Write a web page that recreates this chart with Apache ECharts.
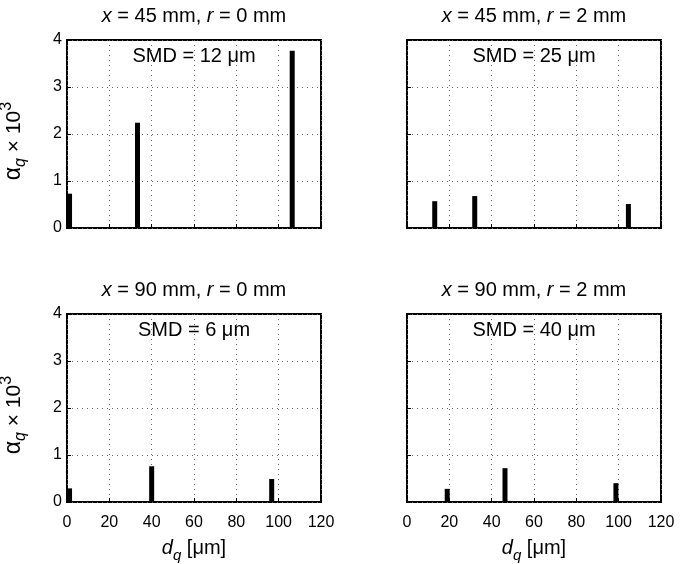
<!DOCTYPE html>
<html>
<head>
<meta charset="utf-8">
<script src="https://cdn.jsdelivr.net/npm/echarts@6/dist/echarts.min.js"></script>
<style>html,body{margin:0;padding:0;background:#fff}#c{width:681px;height:564px}</style>
</head>
<body>
<div id="c"></div>
<script>
// Panel data (d_q in µm, alpha_q × 10^3)
const xPositions = ['45', '45', '90', '90'];
const rPositions = ['0', '2', '0', '2'];
const smdValues = ['12', '25', '6', '40'];
const dq_x45_r0 = [1.2, 33.3, 106.4];
const aq_x45_r0 = [0.73, 2.24, 3.77];
const dq_x45_r2 = [13.1, 32.0, 104.6];
const aq_x45_r2 = [0.57, 0.68, 0.51];
const dq_x90_r0 = [1.2, 40.0, 96.7];
const aq_x90_r0 = [0.29, 0.76, 0.49];
const dq_x90_r2 = [19.0, 46.3, 98.7];
const aq_x90_r2 = [0.28, 0.72, 0.40];
const xTicks = [0, 20, 40, 60, 80, 100, 120];
const yTicks = [0, 1, 2, 3, 4];

const dqSets = [dq_x45_r0, dq_x45_r2, dq_x90_r0, dq_x90_r2];
const aqSets = [aq_x45_r0, aq_x45_r2, aq_x90_r0, aq_x90_r2];

const FONT = '"Liberation Sans", Arial, Helvetica, sans-serif';
const FS_TICK = 16;
const FS = 20;
const FS_SMALL = 15;
const gridBoxes = [
  {left: 67, top: 40, width: 254, height: 188},
  {left: 407, top: 40, width: 254, height: 188},
  {left: 67, top: 314, width: 254, height: 188},
  {left: 407, top: 314, width: 254, height: 188}
];
const showY = [true, false, true, false];
const showX = [false, false, true, true];

const grids = [], xAxes = [], yAxes = [], series = [], graphics = [];
gridBoxes.forEach((g, i) => {
  grids.push(Object.assign({show: true, borderColor: '#000', borderWidth: 2, backgroundColor: '#fff',
    containLabel: false, outerBoundsMode: 'none'}, g));
  xAxes.push({
    type: 'value', gridIndex: i, min: xTicks[0], max: xTicks[xTicks.length - 1], interval: 20,
    axisLine: {show: false},
    axisTick: {show: true, inside: true, length: 4, lineStyle: {color: '#000', width: 1}},
    axisLabel: {show: showX[i], color: '#000', fontFamily: FONT, fontSize: FS_TICK, margin: 13},
    splitLine: {show: true, lineStyle: {color: '#666', type: [1, 4], width: 1}},
    name: showX[i] ? '{i|d}{sub|q}{n| [μm]}' : '',
    nameLocation: 'middle', nameGap: 31,
    nameTextStyle: {
      color: '#000', fontFamily: FONT, fontSize: FS,
      rich: {
        i: {fontStyle: 'italic', fontSize: FS, fontFamily: FONT, color: '#000', lineHeight: 30},
        sub: {fontStyle: 'italic', fontSize: FS_SMALL, fontFamily: FONT, color: '#000', verticalAlign: 'bottom', lineHeight: 17},
        n: {fontSize: FS, fontFamily: FONT, color: '#000', lineHeight: 30}
      }
    }
  });
  yAxes.push({
    type: 'value', gridIndex: i, min: yTicks[0], max: yTicks[yTicks.length - 1], interval: 1,
    axisLine: {show: false},
    axisTick: {show: true, inside: true, length: 4, lineStyle: {color: '#000', width: 1}},
    axisLabel: {show: showY[i], color: '#000', fontFamily: FONT, fontSize: FS_TICK, margin: 5},
    splitLine: {show: true, lineStyle: {color: '#666', type: [1, 4], width: 1}},
    name: showY[i] ? '{a|α}{sub|q}{n| × 10}{sup|3}' : '',
    nameLocation: 'middle', nameGap: 38, nameRotate: 90,
    nameTextStyle: {
      color: '#000', fontFamily: FONT, fontSize: FS,
      padding: [0, 14, 0, 0],
      rich: {
        a: {fontSize: FS + 3, fontFamily: FONT, color: '#000', lineHeight: 30},
        sub: {fontStyle: 'italic', fontSize: FS_SMALL + 1, fontFamily: FONT, color: '#000', verticalAlign: 'bottom', lineHeight: 17},
        n: {fontSize: FS + 1, fontFamily: FONT, color: '#000', lineHeight: 30},
        sup: {fontSize: FS_SMALL + 1, fontFamily: FONT, color: '#000', verticalAlign: 'top', lineHeight: 18}
      }
    }
  });
  series.push({
    type: 'bar', xAxisIndex: i, yAxisIndex: i, barWidth: 5,
    itemStyle: {color: '#000'},
    data: dqSets[i].map((d, k) => [d, aqSets[i][k]]),
    silent: true, animation: false
  });
  const cx = g.left + g.width / 2;
  graphics.push({
    type: 'text', x: cx, y: g.top - 23.5,
    style: {
      text: '{i|x} = ' + xPositions[i] + ' mm, {i|r} = ' + rPositions[i] + ' mm',
      align: 'center', verticalAlign: 'middle', fill: '#000', fontSize: FS, fontFamily: FONT,
      rich: {i: {fontStyle: 'italic', fontSize: FS, fontFamily: FONT, fill: '#000'}}
    },
    z: 10
  });
  graphics.push({
    type: 'text', x: cx, y: g.top + 16,
    style: {
      text: 'SMD = ' + smdValues[i] + ' μm',
      align: 'center', verticalAlign: 'middle', fill: '#000', fontSize: FS, fontFamily: FONT
    },
    z: 10
  });
});

const chart = echarts.init(document.getElementById('c'), null, {renderer: 'canvas'});
chart.setOption({
  animation: false,
  backgroundColor: '#fff',
  grid: grids, xAxis: xAxes, yAxis: yAxes, series: series,
  graphic: graphics
});
</script>
</body>
</html>
